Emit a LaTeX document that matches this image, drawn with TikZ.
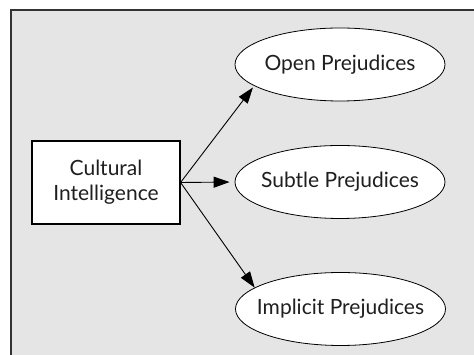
\documentclass[tikz,border=0pt]{standalone}
\usepackage{fontspec}
\setmainfont{Lato}
\usetikzlibrary{shapes.geometric,arrows.meta}
\definecolor{bgGray}{HTML}{E5E5E5}
\begin{document}
\begin{tikzpicture}[x=1pt,y=1pt,
  lbl/.style={font=\fontsize{21}{25}\selectfont, text=black!88},
  ell/.style={ellipse, draw, line width=0.8pt, fill=white, minimum width=210pt, minimum height=73pt, inner xsep=-45pt, inner ysep=0pt, lbl},
  box/.style={rectangle, draw, line width=1.1pt, fill=white, minimum width=148pt, minimum height=83pt, inner sep=0pt, align=center, lbl},
  conn/.style={line width=0.9pt, -{Triangle[length=16pt,width=11pt]}}]
\useasboundingbox (0,0) rectangle (474,355);
\fill[bgGray] (11,0) rectangle (474,345);
\draw[line width=1.4pt, black!80] (11,0) -- (11,345) -- (474,345);
\node[box] (ci) at (106,172.5) {Cultural\\Intelligence};
\node[ell] (open) at (340,290.5) {Open Prejudices};
\node[ell] (subtle) at (340,173) {Subtle Prejudices};
\node[ell] (implicit) at (340.5,46) {Implicit Prejudices};
\draw[conn, shorten >=2pt] (ci.east) -- (open.194);
\draw[conn, shorten >=5pt] (ci.east) -- (subtle.west);
\draw[conn] (ci.east) -- (implicit.166);
\end{tikzpicture}
\end{document}
